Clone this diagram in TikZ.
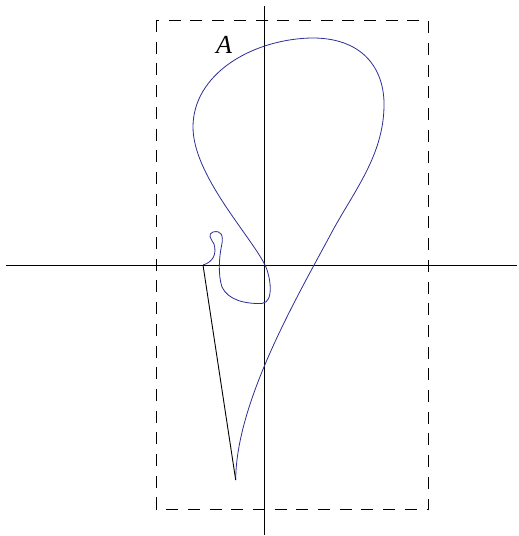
\documentclass[tikz,border=0pt]{standalone}
\usepackage{fontspec}
\newfontfamily\lblfont{Liberation Serif}
\begin{document}
\begin{tikzpicture}[x=1pt,y=-1pt,
  axis/.style={line width=0.9pt,black},
  frame/.style={line width=0.9pt,black,dash pattern=on 12pt off 9.7pt},
  curvestyle/.style={line width=0.8pt,color={rgb,255:red,45;green,45;blue,150}},
  edgeline/.style={line width=0.9pt,black}]
\useasboundingbox (0,0) rectangle (519,536);
% axes
\coordinate (xl) at (6,265);
\coordinate (xr) at (517,265);
\coordinate (yt) at (264,6);
\coordinate (yb) at (264,535);
\draw[axis] (xl) -- (xr);
\draw[axis] (yt) -- (yb);
% dashed frame
\coordinate (f1) at (156,20);
\coordinate (f2) at (428,509);
\draw[frame] (f1) rectangle (f2);
% end points
\coordinate (s) at (203,265);
\coordinate (t) at (235.7,480);
% curve
\draw[curvestyle] (s)
  .. controls (213,262) and (217,254) .. (214,244)
  .. controls (211,239) and (207,234) .. (213,232)
  .. controls (221,230) and (224,235) .. (221.5,246)
  .. controls (219,258) and (218,275) .. (222,287)
  .. controls (228,300) and (245,304) .. (262,303.5)
  .. controls (275,302) and (270,275) .. (265,265)
  .. controls (250,235) and (193,175) .. (193,127)
  .. controls (193,75) and (250,40) .. (310,38)
  .. controls (362,37) and (385,68) .. (384,107)
  .. controls (383,155) and (355,190) .. (333,230)
  .. controls (300,292) and (236,400) .. (t);
\draw[edgeline] (s) -- (t);
% label
\node[font=\lblfont\itshape\fontsize{26}{30}\selectfont] (lblA) at (224,45) {A};
\end{tikzpicture}
\end{document}
